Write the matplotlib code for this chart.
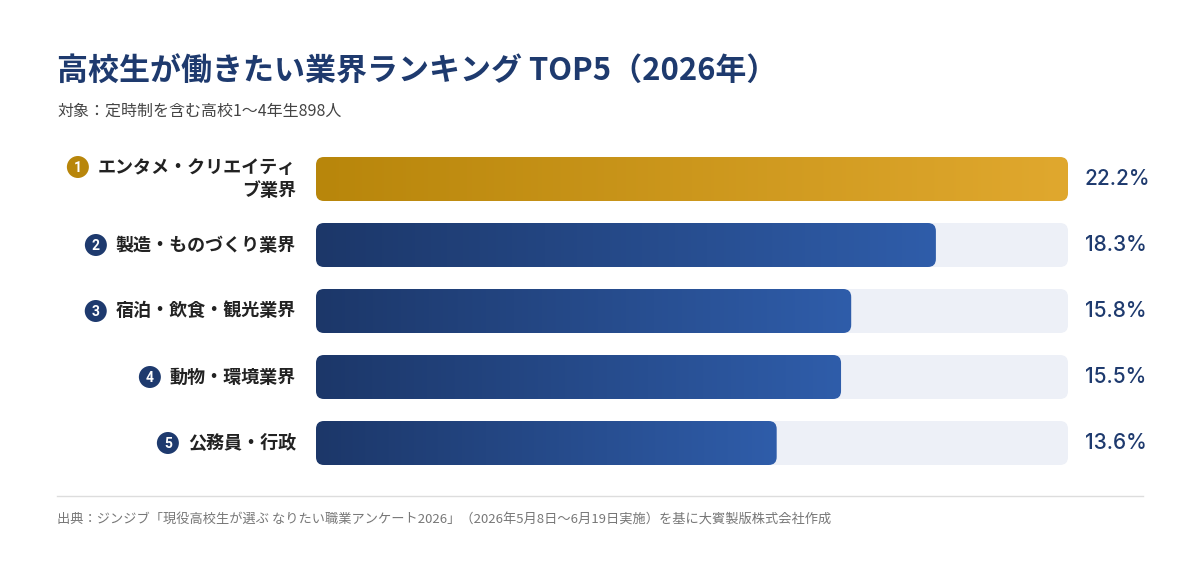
import numpy as np
import matplotlib
matplotlib.use("Agg")
import matplotlib.pyplot as plt
from matplotlib.patches import FancyBboxPatch, Circle
from matplotlib.colors import LinearSegmentedColormap

plt.rcParams['font.family'] = ['Noto Sans CJK JP', 'DejaVu Sans']

categories = ["エンタメ・クリエイティ\nブ業界", "製造・ものづくり業界", "宿泊・飲食・観光業界", "動物・環境業界", "公務員・行政"]
ranks = ["1", "2", "3", "4", "5"]
values = [22.2, 18.3, 15.8, 15.5, 13.6]
value_labels = ["22.2%", "18.3%", "15.8%", "15.5%", "13.6%"]
title = "高校生が働きたい業界ランキング TOP5（2026年）"
subtitle = "対象：定時制を含む高校1～4年生898人"
source = "出典：ジンジブ「現役高校生が選ぶ なりたい職業アンケート2026」（2026年5月8日～6月19日実施）を基に大賓製版株式会社作成"

W, H = 1200, 582
fig = plt.figure(figsize=(W / 100, H / 100), dpi=100)
fig.patch.set_facecolor("white")

NAVY = "#1E3A6E"
GOLD_L, GOLD_R = "#B8860B", "#E0A82E"
NAVY_L, NAVY_R = "#1C3769", "#2F5DAA"
TRACK = "#EDF0F7"

# bar axes in pixel layout
x0, x1 = 316, 1068
ytop, ybot = 146, 476
ax = fig.add_axes([x0 / W, 1 - ybot / H, (x1 - x0) / W, (ybot - ytop) / H])
n = len(values)
xmax = max(values)
ax.set_xlim(0, xmax)
ax.set_ylim(n - 0.5, -0.5)
ax.axis("off")

bh = 44 / 66
px_x = xmax / (x1 - x0)
px_y = 1 / 66
r = 8 * px_x
asp = px_y / px_x

for i, v in enumerate(values):
    track = FancyBboxPatch((0, i - bh / 2), xmax, bh,
                           boxstyle=f"round,pad=0,rounding_size={r}",
                           mutation_aspect=asp, fc=TRACK, ec="none", zorder=1)
    ax.add_patch(track)
    bar = FancyBboxPatch((0, i - bh / 2), v, bh,
                         boxstyle=f"round,pad=0,rounding_size={r}",
                         mutation_aspect=asp, fc="none", ec="none", zorder=2)
    ax.add_patch(bar)
    cl, cr = (GOLD_L, GOLD_R) if i == 0 else (NAVY_L, NAVY_R)
    cmap = LinearSegmentedColormap.from_list("g%d" % i, [cl, cr])
    grad = np.linspace(0, 1, 256).reshape(1, -1)
    im = ax.imshow(grad, cmap=cmap, extent=[0, v, i + bh / 2, i - bh / 2],
                   aspect="auto", zorder=3, interpolation="bicubic")
    im.set_clip_path(bar)

ax.set_xlim(0, xmax)
ax.set_ylim(n - 0.5, -0.5)

# texts
fig.text(57 / W, 1 - 72 / H, title, fontsize=22.3, fontweight="bold", color=NAVY,
         ha="left", va="center")
fig.text(57 / W, 1 - 111 / H, subtitle, fontsize=11.5, color="#444444",
         ha="left", va="center")

renderer = fig.canvas.get_renderer()
lab_x = 296
for i, (c, rk) in enumerate(zip(categories, ranks)):
    yc = ytop + 33 + 66 * i
    t = fig.text(lab_x / W, 1 - yc / H, c, fontsize=13, fontweight="bold",
                 color="#222222", ha="right", va="center", multialignment="right",
                 linespacing=1.3)
    bb = t.get_window_extent(renderer)
    if "\n" in c:
        cy = 1 - (yc - 12) / H
        t1 = fig.text(lab_x / W, 0, c.split("\n")[0], fontsize=13, fontweight="bold",
                      ha="right", va="center", alpha=0)
        left = t1.get_window_extent(renderer).x0
        t1.remove()
    else:
        cy = 1 - yc / H
        left = bb.x0
    cx = (left - 9 - 11) / W
    circ = Circle((cx * W, cy * H), 11, transform=None, fc=GOLD_L if i == 0 else NAVY,
                  ec="none")
    fig.patches.append(circ)
    circ.set_figure(fig)
    fig.text(cx, cy - 1 / H, rk, fontsize=10, fontweight="bold", color="white",
             ha="center", va="center", family=["Roboto", "DejaVu Sans"])

for i, vl in enumerate(value_labels):
    ax.annotate(vl, xy=(xmax, i), xytext=(17, 0), textcoords="offset pixels",
                fontsize=15, color=NAVY, ha="left", va="center",
                family=["Inter", "DejaVu Sans"], fontweight="medium",
                annotation_clip=False)

fig.add_artist(plt.Line2D([57 / W, 1143 / W], [1 - 496 / H, 1 - 496 / H],
                          color="#DDDDDD", lw=1))
fig.text(57 / W, 1 - 519 / H, source, fontsize=9.5, color="#777777",
         ha="left", va="center")

fig.savefig("out.png", dpi=100, facecolor="white")
